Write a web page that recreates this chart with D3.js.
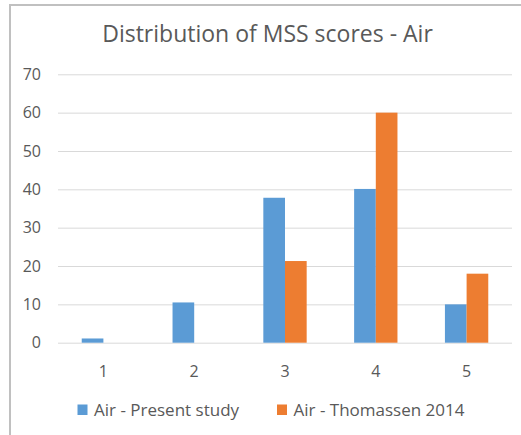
<!DOCTYPE html>
<html><head><meta charset="utf-8">
<script src="https://cdn.jsdelivr.net/npm/d3@7"></script>
<style>body{margin:0;background:#fff;} text{font-family:"Open Sans","Noto Sans",sans-serif;}</style>
</head><body>
<svg id="c" width="521" height="435"></svg>
<script>
const categories = ["1","2","3","4","5"];
const seriesNames = ["Air - Present study","Air - Thomassen 2014"];
const presentStudy = [1.1, 10.5, 37.8, 40.1, 10.0];
const thomassen2014 = [0, 0, 21.3, 60, 18.0];
const yTicks = [0,10,20,30,40,50,60,70];
const colors = ["#5b9bd5","#ed7d31"];
const title = "Distribution of MSS scores - Air";

const svg = d3.select("#c");
// frame
svg.append("line").attr("x1",10).attr("x2",10).attr("y1",4).attr("y2",435).attr("stroke","#c0c0c0").attr("stroke-width",2);
svg.append("line").attr("x1",9).attr("x2",521).attr("y1",5).attr("y2",5).attr("stroke","#c0c0c0").attr("stroke-width",2);

const x0 = d3.scaleBand().domain(categories).range([58,512]).paddingInner(0).paddingOuter(0);
const y = d3.scaleLinear().domain([0,70]).range([342.7,74.3]);
const barW = x0.bandwidth()/(2+2.19);
const x1 = d3.scaleBand().domain([0,1]).range([x0.bandwidth()/2-barW, x0.bandwidth()/2+barW]);

// gridlines
const yAxis = d3.axisLeft(y).tickValues(yTicks).tickSize(-(512-58)).tickPadding(17);
const gy = svg.append("g").attr("transform","translate(58,0)").call(yAxis);
gy.select(".domain").remove();
gy.selectAll(".tick line").attr("stroke","#d9d9d9");
gy.selectAll(".tick text").attr("fill","#595959").style("font-size","16px");

const data = [presentStudy, thomassen2014];
categories.forEach((c,i)=>{
  [0,1].forEach(s=>{
    const v = data[s][i];
    if (v<=0) return;
    svg.append("rect").attr("x",x0(c)+x1(s)).attr("width",x1.bandwidth())
      .attr("y",y(v)).attr("height",y(0)-y(v)).attr("fill",colors[s]);
  });
});

const xAxis = d3.axisBottom(x0).tickSize(0).tickPadding(22.5);
const gx = svg.append("g").attr("transform",`translate(0,${y(0)})`).call(xAxis);
gx.select(".domain").remove();
gx.selectAll(".tick text").attr("fill","#595959").style("font-size","16px");

svg.append("text").attr("x",267.5).attr("y",42).attr("text-anchor","middle")
  .attr("fill","#595959").style("font-size","23px").text(title);

// legend
const legX = [77.5, 277];
seriesNames.forEach((n,i)=>{
  svg.append("rect").attr("x",legX[i]).attr("y",404.5).attr("width",10).attr("height",10.5).attr("fill",colors[i]);
  svg.append("text").attr("x",legX[i]+16.5).attr("y",416).attr("fill","#595959").style("font-size","17px").text(n);
});
</script>
</body></html>
